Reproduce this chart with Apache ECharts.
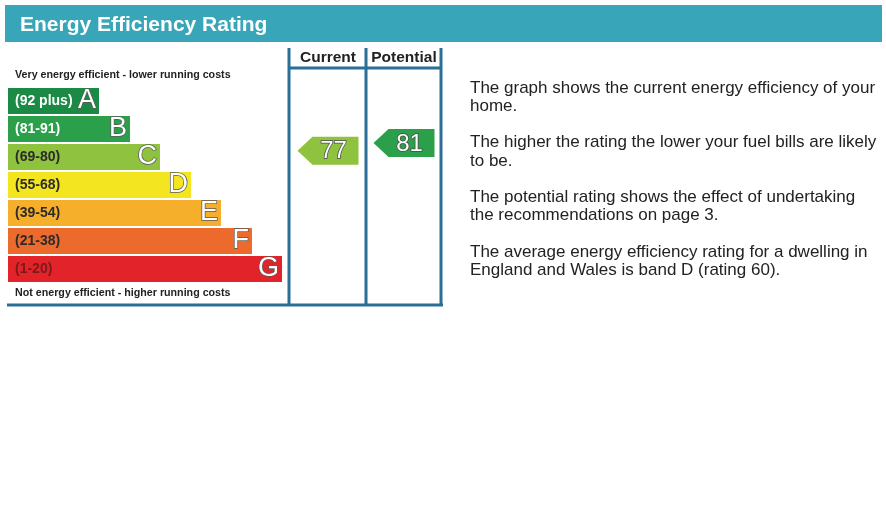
<!DOCTYPE html>
<html>
<head>
<meta charset="utf-8">
<title>Energy Efficiency Rating</title>
<style>
  html, body { margin: 0; padding: 0; background: #fff; }
  #chart { width: 886px; height: 525px; }
</style>
<script src="https://cdn.jsdelivr.net/npm/echarts@6/dist/echarts.min.js"></script>
</head>
<body>
<div id="chart"></div>
<script>
// bandas de la escala EPC
const bands = ["A", "B", "C", "D", "E", "F", "G"];
const rangeLabels = ["(92 plus)", "(81-91)", "(69-80)", "(55-68)", "(39-54)", "(21-38)", "(1-20)"];
const bandTop = [100, 91, 80, 68, 54, 38, 20];
const bandBottom = [92, 81, 69, 55, 39, 21, 1];
const barLengths = [91, 122, 152, 183, 213, 244, 274];
const bandColors = ["#1b8a45", "#2c9f4b", "#8fc23f", "#f3e51f", "#f5af2a", "#ec6a2c", "#e2232a"];
const rangeLabelColors = ["#ffffff", "#ffffff", "#2b2b2b", "#2b2b2b", "#2b2b2b", "#2b2b2b", "#7a1a1a"];

// columnas de calificación
const ratingColumns = ["Current", "Potential"];
const ratings = [77, 81];

// texto explicativo de la derecha
const infoLines = [
  "The graph shows the current energy efficiency of your",
  "home.",
  "",
  "The higher the rating the lower your fuel bills are likely",
  "to be.",
  "",
  "The potential rating shows the effect of undertaking",
  "the recommendations on page 3.",
  "",
  "The average energy efficiency rating for a dwelling in",
  "England and Wales is band D (rating 60)."
];

const frameColor = "#2b6e98";

// posición vertical (en bandas) de una calificación
function bandIndexOf(r) {
  for (let i = 0; i < bands.length; i++) {
    if (r >= bandBottom[i]) return i;
  }
  return bands.length - 1;
}
function bandPosition(r) {
  const i = bandIndexOf(r);
  const span = bandTop[i] - bandBottom[i];
  return i + (span > 0 ? (bandTop[i] - r) / span : 0.5);
}

const chart = echarts.init(document.getElementById("chart"));

const option = {
  animation: false,
  title: {
    text: "Energy Efficiency Rating",
    left: 15,
    top: 10,
    textStyle: { color: "#ffffff", fontSize: 21, fontWeight: "bold", fontFamily: "Liberation Sans" }
  },
  grid: [
    { left: 8, top: 87, width: 300, height: 196 },
    { left: 289, top: 87, width: 152, height: 196 }
  ],
  xAxis: [
    { gridIndex: 0, type: "value", min: 0, max: 300, show: false },
    { gridIndex: 1, type: "category", data: ratingColumns, show: false }
  ],
  yAxis: [
    { gridIndex: 0, type: "category", data: bands, inverse: true, show: false },
    { gridIndex: 1, type: "value", min: 0, max: 7, inverse: true, show: false }
  ],
  graphic: [
    { type: "rect", z: -1, shape: { x: 5, y: 5, width: 877, height: 37 }, style: { fill: "#38a6b8" } },
    { type: "text", style: { text: "Very energy efficient - lower running costs", x: 15, y: 75, verticalAlign: "middle",
      fill: "#222", font: "bold 10.7px Liberation Sans" } },
    { type: "text", style: { text: "Not energy efficient - higher running costs", x: 15, y: 293, verticalAlign: "middle",
      fill: "#222", font: "bold 10.7px Liberation Sans" } },
    { type: "text", style: { text: ratingColumns[0], x: 328, y: 58, align: "center", verticalAlign: "middle",
      fill: "#222", font: "bold 15.5px Liberation Sans" } },
    { type: "text", style: { text: ratingColumns[1], x: 404, y: 58, align: "center", verticalAlign: "middle",
      fill: "#222", font: "bold 15.5px Liberation Sans" } },
    { type: "line", shape: { x1: 289, y1: 48, x2: 289, y2: 306 }, style: { stroke: frameColor, lineWidth: 3 } },
    { type: "line", shape: { x1: 366, y1: 48, x2: 366, y2: 306 }, style: { stroke: frameColor, lineWidth: 3 } },
    { type: "line", shape: { x1: 441, y1: 48, x2: 441, y2: 306 }, style: { stroke: frameColor, lineWidth: 3 } },
    { type: "line", shape: { x1: 289, y1: 68, x2: 441, y2: 68 }, style: { stroke: frameColor, lineWidth: 3 } },
    { type: "line", shape: { x1: 7, y1: 305, x2: 443, y2: 305 }, style: { stroke: frameColor, lineWidth: 3 } },
    { type: "text", style: { text: infoLines.join("\n"), x: 470, y: 79, lineHeight: 18.2,
      fill: "#222", font: "17px Liberation Sans" } }
  ],
  series: [
    {
      type: "bar",
      xAxisIndex: 0,
      yAxisIndex: 0,
      barWidth: 26,
      data: barLengths.map((v, i) => ({
        value: v,
        itemStyle: { color: bandColors[i] },
        label: { color: rangeLabelColors[i] }
      })),
      label: {
        show: true,
        position: "insideLeft",
        distance: 7,
        formatter: (p) => rangeLabels[p.dataIndex],
        fontSize: 14,
        fontWeight: "bold",
        fontFamily: "Liberation Sans"
      }
    },
    {
      type: "bar",
      xAxisIndex: 0,
      yAxisIndex: 0,
      barWidth: 26,
      barGap: "-100%",
      data: barLengths,
      itemStyle: { color: "transparent" },
      label: {
        show: true,
        position: "insideRight",
        distance: 3,
        formatter: (p) => bands[p.dataIndex],
        fontSize: 27,
        color: "#ffffff",
        textBorderColor: "#5a5a5a",
        textBorderWidth: 1.5,
        fontFamily: "Liberation Sans"
      }
    },
    {
      type: "custom",
      xAxisIndex: 1,
      yAxisIndex: 1,
      data: ratings.map((r, i) => [i, bandPosition(r), r]),
      renderItem: function (params, api) {
        const pt = api.coord([api.value(0), api.value(1)]);
        const r = api.value(2);
        const color = bandColors[bandIndexOf(r)];
        const w = 61, h = 28, tip = 15;
        const x0 = pt[0] - w / 2 + 1;
        const x1 = x0 + w;
        const cy = pt[1];
        return {
          type: "group",
          children: [
            {
              type: "polygon",
              shape: { points: [[x0, cy], [x0 + tip, cy - h / 2], [x1, cy - h / 2], [x1, cy + h / 2], [x0 + tip, cy + h / 2]] },
              style: { fill: color }
            },
            {
              type: "text",
              style: {
                text: String(r),
                x: x0 + tip + (w - tip) / 2 - 2,
                y: cy + 1,
                align: "center",
                verticalAlign: "middle",
                fill: "#ffffff",
                stroke: "#4a4a4a",
                lineWidth: 1.5,
                font: "24px Liberation Sans"
              }
            }
          ]
        };
      }
    }
  ]
};

chart.setOption(option);

window.addEventListener("resize", function () {
  chart.resize();
});
</script>
</body>
</html>
